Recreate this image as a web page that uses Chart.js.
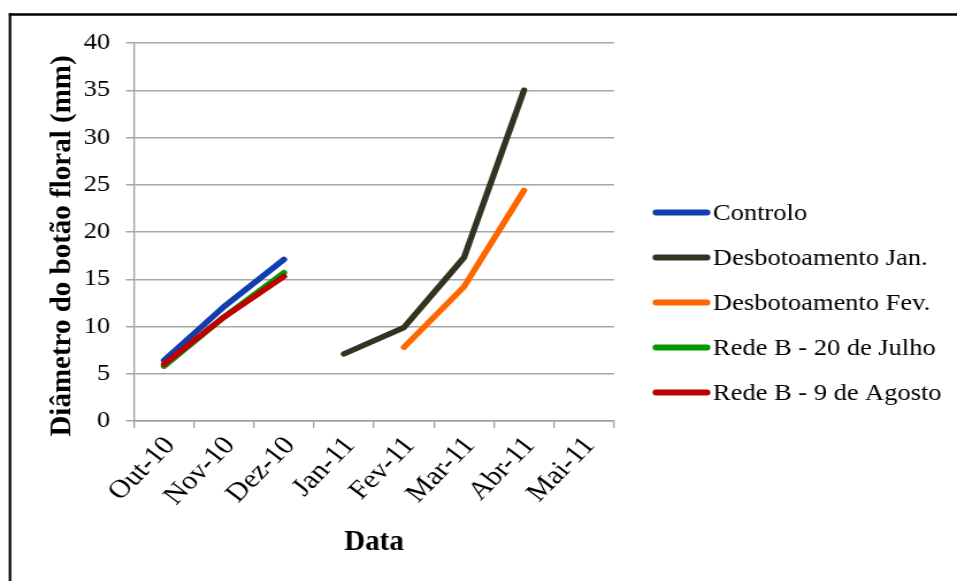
<!DOCTYPE html>
<html>
<head>
<meta charset="utf-8">
<script src="https://cdn.jsdelivr.net/npm/chart.js@4/dist/chart.umd.min.js"></script>
<style>
  html, body { margin: 0; padding: 0; background: #ffffff; overflow: hidden; }
  /* the drawing is laid out on a narrower canvas and widened horizontally */
  #wrap { width: 832px; height: 581px; position: relative; transform: scaleX(1.15024); transform-origin: 0 0; }
</style>
</head>
<body>
<div id="wrap"><canvas id="chart"></canvas></div>
<script>
// Months on the category axis
const months = ['Out-10', 'Nov-10', 'Dez-10', 'Jan-11', 'Fev-11', 'Mar-11', 'Abr-11', 'Mai-11'];

// Mean flower-bud diameter (mm) per treatment
const controlo   = [6.4, 12.1, 17.1, null, null, null, null, null];
const desbJan    = [null, null, null, 7.1, 9.9, 17.3, 35.0, null];
const desbFev    = [null, null, null, null, 7.8, 14.2, 24.4, null];
const redeJulho  = [5.8, 11.0, 15.7, null, null, null, null, null];
const redeAgosto = [6.0, 11.0, 15.3, null, null, null, null, null];

const seriesNames  = ['Controlo', 'Desbotoamento Jan.', 'Desbotoamento Fev.', 'Rede B - 20 de Julho', 'Rede B - 9 de Agosto'];
const seriesColors = ['#1040B0', '#333322', '#FF6600', '#009A00', '#C00000'];
const seriesValues = [controlo, desbJan, desbFev, redeJulho, redeAgosto];

const yTitle = 'Diâmetro do botão floral (mm)';
const xTitle = 'Data';

const SX = 1.15024;                 // horizontal widening applied by CSS
const px = v => v / SX;             // screen x -> canvas x
// canvas rotation that shows as 45 degrees after the widening
const labelAngle = Math.atan(SX) * 180 / Math.PI;

const yTickFont = { family: 'Liberation Serif', size: 23 };
const xTickFont = { family: 'Liberation Serif', size: 26 };

const datasets = seriesValues.map((vals, i) => ({
  label: seriesNames[i],
  data: vals,
  borderColor: seriesColors[i],
  backgroundColor: seriesColors[i],
  borderWidth: 5.5,
  borderCapStyle: 'round',
  borderJoinStyle: 'round',
  pointRadius: 0,
  pointHoverRadius: 0,
  tension: 0,
  spanGaps: false,
  fill: false,
  order: seriesValues.length - i   // later series are painted over earlier ones
}));

// Frame, axis titles and legend
const decorations = {
  id: 'decorations',
  beforeDraw(chart) {
    const ctx = chart.ctx;
    ctx.save();
    ctx.fillStyle = '#ffffff';
    ctx.fillRect(0, 0, chart.width, chart.height);
    ctx.strokeStyle = '#000000';
    // top edge
    ctx.lineWidth = 2.5;
    ctx.beginPath();
    ctx.moveTo(px(9), 14.5);
    ctx.lineTo(chart.width, 14.5);
    ctx.stroke();
    // left edge
    ctx.lineWidth = 2.5 / SX;
    ctx.beginPath();
    ctx.moveTo(px(10), 13.3);
    ctx.lineTo(px(10), chart.height);
    ctx.stroke();
    ctx.restore();
  },
  afterDraw(chart) {
    const ctx = chart.ctx;
    const area = chart.chartArea;
    ctx.save();
    ctx.fillStyle = '#000000';

    // y-axis title
    ctx.font = 'bold 29px "Liberation Serif"';
    ctx.textAlign = 'center';
    ctx.textBaseline = 'alphabetic';
    ctx.save();
    ctx.translate(px(70), 246);
    ctx.scale(1 / SX, 1);
    ctx.rotate(-Math.PI / 2);
    ctx.fillText(yTitle, 0, 0);
    ctx.restore();

    // x-axis title
    ctx.save();
    ctx.translate((area.left + area.right) / 2, 550);
    ctx.scale(1 / SX, 1);
    ctx.fillText(xTitle, 0, 0);
    ctx.restore();

    // legend
    const lx0 = px(656), lx1 = px(707), tx = px(713), y0 = 212.5, dy = 45;
    ctx.font = '23px "Liberation Serif"';
    ctx.textAlign = 'left';
    ctx.textBaseline = 'middle';
    chart.data.datasets.forEach((ds, i) => {
      const y = y0 + i * dy;
      ctx.strokeStyle = ds.borderColor;
      ctx.lineWidth = 6;
      ctx.lineCap = 'round';
      ctx.beginPath();
      ctx.moveTo(lx0, y);
      ctx.lineTo(lx1, y);
      ctx.stroke();
      ctx.fillStyle = '#000000';
      ctx.fillText(ds.label, tx, y + 1);
    });
    ctx.restore();
  }
};

new Chart(document.getElementById('chart'), {
  type: 'line',
  data: { labels: months, datasets },
  options: {
    responsive: true,
    maintainAspectRatio: false,
    animation: false,
    events: [],
    layout: { padding: { left: 0, right: px(343), top: 43, bottom: 0 } },
    plugins: {
      legend: { display: false },
      tooltip: { enabled: false }
    },
    scales: {
      x: {
        type: 'category',
        offset: true,
        grid: {
          offset: true,
          drawOnChartArea: false,
          drawTicks: true,
          tickLength: 7,
          color: '#A0A0A0',
          lineWidth: 1.3
        },
        border: { color: '#A0A0A0', width: 1.5 },
        ticks: {
          font: xTickFont,
          color: '#000000',
          minRotation: labelAngle,
          maxRotation: labelAngle,
          autoSkip: false,
          padding: 3,
          labelOffset: px(6)
        },
        afterFit(scale) { scale.height = 160; }
      },
      y: {
        min: 0,
        max: 40,
        ticks: {
          stepSize: 5,
          font: yTickFont,
          color: '#000000',
          padding: px(16)
        },
        grid: {
          color: '#A6A6A6',
          lineWidth: 1.5,
          tickLength: px(8)
        },
        border: { color: '#A0A0A0', width: 1.3 },
        afterFit(scale) { scale.width = px(134); }
      }
    }
  },
  plugins: [decorations]
});
</script>
</body>
</html>
